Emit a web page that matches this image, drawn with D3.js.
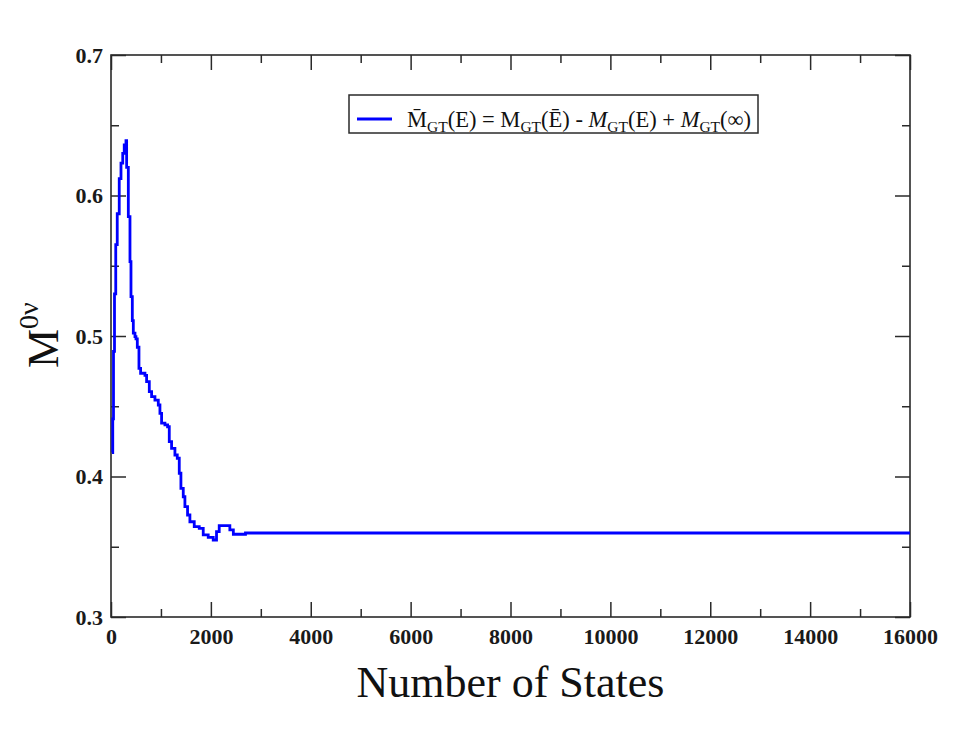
<!DOCTYPE html>
<html>
<head>
<meta charset="utf-8">
<script src="https://cdn.jsdelivr.net/npm/d3@7"></script>
<style>
  html, body { margin: 0; padding: 0; background: #fff; }
  svg { display: block; }
</style>
</head>
<body>
<svg id="chart" width="968" height="738"></svg>
<script>
// ---- data ----
const states = [20, 35, 50, 70, 95, 125, 165, 200, 235, 265, 300, 313, 347, 380, 400, 427, 447, 480, 500, 527, 560, 593, 680, 713, 767, 813, 880, 947, 980, 1013, 1080, 1133, 1167, 1213, 1280, 1327, 1367, 1400, 1447, 1480, 1533, 1580, 1667, 1767, 1847, 1947, 2047, 2113, 2167, 2380, 2450, 2547, 2693, 16000];
const values = [0.417, 0.441, 0.489, 0.530, 0.565, 0.587, 0.612, 0.623, 0.630, 0.636, 0.639, 0.620, 0.585, 0.553, 0.528, 0.511, 0.502, 0.4995, 0.498, 0.492, 0.477, 0.4735, 0.472, 0.4675, 0.4604, 0.4568, 0.4544, 0.4509, 0.445, 0.438, 0.4367, 0.4354, 0.4248, 0.420, 0.4153, 0.413, 0.4023, 0.3916, 0.3856, 0.3785, 0.3726, 0.3678, 0.3643, 0.3631, 0.3584, 0.3567, 0.3548, 0.3607, 0.365, 0.362, 0.3589, 0.3589, 0.3598, 0.3598];
const xMajorTicks = [0, 2000, 4000, 6000, 8000, 10000, 12000, 14000, 16000];
const xMinorTicks = [1000, 3000, 5000, 7000, 9000, 11000, 13000, 15000];
const yMajorTicks = [0.3, 0.4, 0.5, 0.6, 0.7];
const yMinorTicks = [0.35, 0.45, 0.55, 0.65];
const xTitle = "Number of States";

// ---- layout ----
const svg = d3.select("#chart");
const W = 968, H = 738;
const m = { left: 111, right: 58, top: 55, bottom: 121 };
const iw = W - m.left - m.right, ih = H - m.top - m.bottom;
const serif = "'Liberation Serif', 'Times New Roman', Times, serif";
const frameColor = "#2a2a2a";

const x = d3.scaleLinear().domain([0, 16000]).range([0, iw]);
const y = d3.scaleLinear().domain([0.3, 0.7]).range([ih, 0]);

const g = svg.append("g").attr("transform", `translate(${m.left},${m.top})`);

function styleAxis(sel) {
  sel.select(".domain").remove();
  sel.selectAll(".tick line").attr("stroke", frameColor).attr("stroke-width", 1.5);
}
const MAJ = 15, MIN = 8;
const labelStyle = s => s.selectAll("text").attr("font-family", serif).attr("font-size", 22)
  .attr("font-weight", "bold").attr("fill", "#1a1a1a");

// bottom axis
g.append("g").attr("transform", `translate(0,${ih})`)
  .call(d3.axisBottom(x).tickValues(xMajorTicks).tickSize(-MAJ).tickPadding(11).tickFormat(d3.format("d")))
  .call(styleAxis).call(labelStyle);
g.append("g").attr("transform", `translate(0,${ih})`)
  .call(d3.axisBottom(x).tickValues(xMinorTicks).tickSize(-MIN).tickFormat(""))
  .call(styleAxis);
// top axis mirror ticks
g.append("g")
  .call(d3.axisTop(x).tickValues(xMajorTicks).tickSize(-MAJ).tickFormat(""))
  .call(styleAxis);
g.append("g")
  .call(d3.axisTop(x).tickValues(xMinorTicks).tickSize(-MIN).tickFormat(""))
  .call(styleAxis);
// left axis
g.append("g")
  .call(d3.axisLeft(y).tickValues(yMajorTicks).tickSize(-MAJ).tickPadding(8).tickFormat(d3.format(".1f")))
  .call(styleAxis).call(labelStyle);
g.append("g")
  .call(d3.axisLeft(y).tickValues(yMinorTicks).tickSize(-MIN).tickFormat(""))
  .call(styleAxis);
// right axis mirror ticks
g.append("g").attr("transform", `translate(${iw},0)`)
  .call(d3.axisRight(y).tickValues(yMajorTicks).tickSize(-MAJ).tickFormat(""))
  .call(styleAxis);
g.append("g").attr("transform", `translate(${iw},0)`)
  .call(d3.axisRight(y).tickValues(yMinorTicks).tickSize(-MIN).tickFormat(""))
  .call(styleAxis);

// frame
g.append("rect").attr("x", 0).attr("y", 0).attr("width", iw).attr("height", ih)
  .attr("fill", "none").attr("stroke", frameColor).attr("stroke-width", 1.6);

// data line
const pts = states.map((s, i) => [s, values[i]]);
g.append("path").datum(pts)
  .attr("fill", "none").attr("stroke", "#0000ff").attr("stroke-width", 2.8)
  .attr("stroke-linejoin", "miter")
  .attr("d", d3.line().x(d => x(d[0])).y(d => y(d[1])).curve(d3.curveStepAfter));

// legend
const lg = svg.append("g");
lg.append("rect").attr("x", 349).attr("y", 95).attr("width", 409).attr("height", 38)
  .attr("fill", "#fff").attr("stroke", frameColor).attr("stroke-width", 1.5);
lg.append("line").attr("x1", 357).attr("x2", 392).attr("y1", 119).attr("y2", 119)
  .attr("stroke", "#0000ff").attr("stroke-width", 2.8);
const lt = lg.append("text").attr("x", 407).attr("y", 127)
  .attr("font-family", serif).attr("font-size", 22.5).attr("fill", "#111");
const SUB = 15.5;
function sub(txt) { lt.append("tspan").text(txt).attr("font-size", SUB).attr("dy", 5); }
function up(txt, italic) {
  const t = lt.append("tspan").attr("dy", -5).text(txt);
  if (italic) t.attr("font-style", "italic");
}
// M̄GT(E) = MGT(Ē) - MGT(E) + MGT(∞)
lt.append("tspan").text("M\u0304"); sub("GT"); up("(E) = M");
sub("GT"); up("(E\u0304) - ");
lt.append("tspan").attr("font-style", "italic").text("M");
sub("GT"); up("(E) + ");
lt.append("tspan").attr("font-style", "italic").text("M");
sub("GT"); up("(\u221E)");

// x title
svg.append("text").attr("x", m.left + iw / 2).attr("y", 697)
  .attr("text-anchor", "middle").attr("font-family", serif).attr("font-size", 44)
  .attr("fill", "#111").text(xTitle);

// y title: M^{0ν}
const yt = svg.append("text").attr("transform", "translate(58,368) rotate(-90)")
  .attr("font-family", serif).attr("font-size", 44).attr("fill", "#111");
yt.append("tspan").text("M");
yt.append("tspan").attr("font-size", 28).attr("dy", -20).text("0\u03BD");
</script>
</body>
</html>
